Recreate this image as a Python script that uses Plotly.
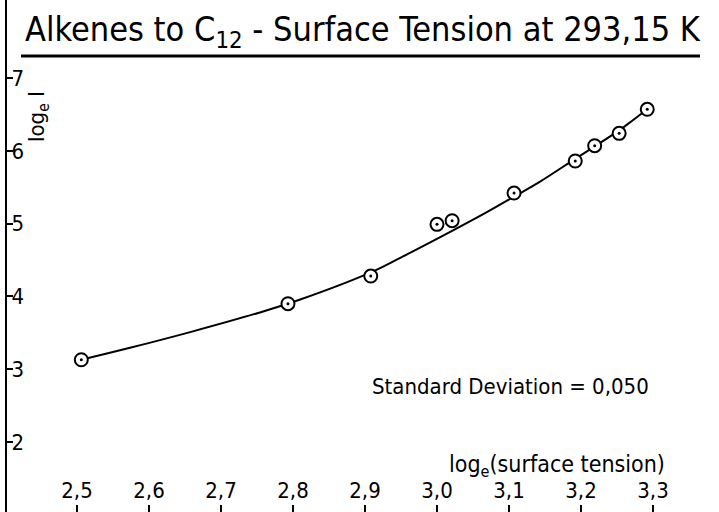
import plotly.graph_objects as go

# Measured points
x_pts = [2.506, 2.793, 2.908, 3.000, 3.021, 3.107, 3.192, 3.219, 3.253, 3.292]
y_pts = [3.13, 3.90, 4.28, 4.99, 5.04, 5.42, 5.86, 6.07, 6.24, 6.57]

# Fitted curve
x_fit = [2.506, 2.568, 2.661, 2.754, 2.808, 2.908, 2.949, 3.021, 3.068, 3.107, 3.142, 3.192, 3.219, 3.253, 3.272, 3.292]
y_fit = [3.13, 3.28, 3.52, 3.78, 3.95, 4.33, 4.53, 4.90, 5.15, 5.37, 5.57, 5.89, 6.06, 6.28, 6.42, 6.57]

x_ticks = [2.5, 2.6, 2.7, 2.8, 2.9, 3.0, 3.1, 3.2, 3.3]
x_tick_text = ["2,5", "2,6", "2,7", "2,8", "2,9", "3,0", "3,1", "3,2", "3,3"]
y_ticks = [2, 3, 4, 5, 6, 7]
y_tick_text = ["2", "3", "4", "5", "6", "7"]

FONT = "Liberation Sans Narrow, DejaVu Sans Condensed, Arial Narrow, sans-serif"

fig = go.Figure()
fig.add_trace(go.Scatter(x=x_fit, y=y_fit, mode="lines",
                         line=dict(color="black", width=2, shape="spline", smoothing=1.0),
                         hoverinfo="skip"))
fig.add_trace(go.Scatter(x=x_pts, y=y_pts, mode="markers",
                         marker=dict(symbol="circle", size=13, color="white",
                                     line=dict(color="black", width=2))))
fig.add_trace(go.Scatter(x=x_pts, y=y_pts, mode="markers",
                         marker=dict(symbol="circle", size=3, color="black")))

W, H = 719, 512
L = 7
fig.update_layout(
    width=W, height=H,
    margin=dict(l=L, r=0, t=0, b=0),
    paper_bgcolor="white", plot_bgcolor="white",
    showlegend=False,
    font=dict(family=FONT, color="black", size=22),
    xaxis=dict(range=[2.5 + (L - 77) / 720, 2.5 + (W - 77) / 720],
               tickvals=x_ticks, ticktext=x_tick_text,
               ticks="inside", ticklen=7, tickwidth=1.5, tickcolor="black",
               ticklabelposition="inside", ticklabelstandoff=4,
               showgrid=False, zeroline=False, showline=False,
               tickfont=dict(size=22, family=FONT, color="black")),
    yaxis=dict(range=[2 - 70 / 72.8, 2 + 442 / 72.8],
               tickvals=y_ticks, ticktext=y_tick_text,
               ticks="inside", ticklen=6, tickwidth=1.5, tickcolor="black",
               ticklabelposition="inside", ticklabelstandoff=0,
               showgrid=False, zeroline=False,
               showline=True, linecolor="black", linewidth=2,
               tickfont=dict(size=22, family=FONT, color="black")),
)

def px_x(p):
    return (p - L) / (W - L)

def px_y(p):
    return 1 - p / H

fig.add_annotation(text="Alkenes to C<sub>12</sub> - Surface Tension at 293,15 K",
                   xref="paper", yref="paper", x=px_x(363), y=px_y(31),
                   xanchor="center", yanchor="middle", showarrow=False,
                   font=dict(size=34, family=FONT, color="black"))
fig.add_shape(type="line", xref="paper", yref="paper",
              x0=px_x(21), x1=px_x(700), y0=px_y(56), y1=px_y(56),
              line=dict(color="black", width=3))
fig.add_annotation(text="Standard Deviation = 0,050",
                   xref="paper", yref="paper", x=px_x(511), y=px_y(386),
                   xanchor="center", yanchor="middle", showarrow=False,
                   font=dict(size=22, family=FONT, color="black"))
fig.add_annotation(text="log<sub>e</sub>(surface tension)",
                   xref="paper", yref="paper", x=px_x(557), y=px_y(466),
                   xanchor="center", yanchor="middle", showarrow=False,
                   font=dict(size=23, family=FONT, color="black"))
fig.add_annotation(text="log<sub>e</sub> I",
                   xref="paper", yref="paper", x=px_x(38), y=px_y(117),
                   xanchor="center", yanchor="middle", showarrow=False,
                   textangle=-90, font=dict(size=22, family=FONT, color="black"))

fig.write_html("out.html")
